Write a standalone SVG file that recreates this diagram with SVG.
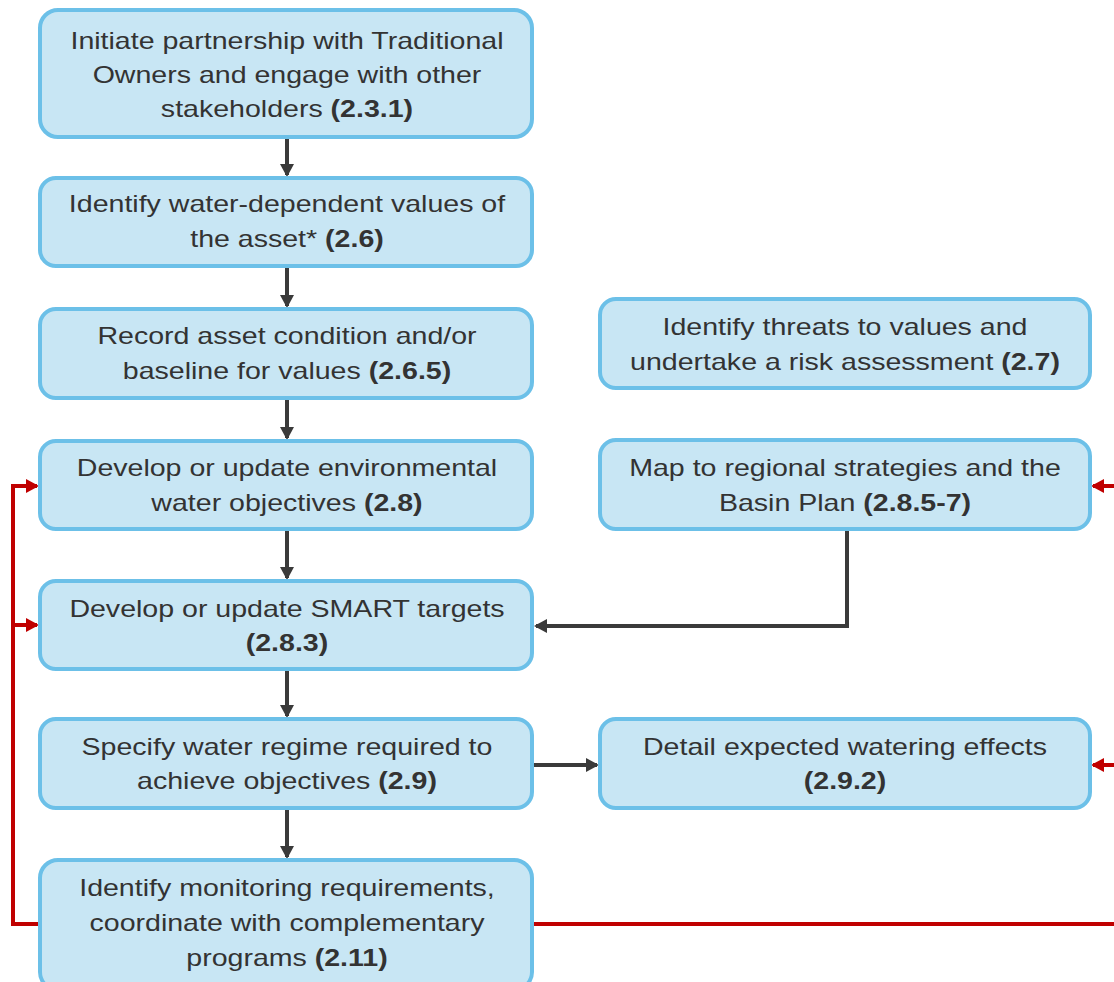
<svg xmlns="http://www.w3.org/2000/svg" width="1114" height="982" viewBox="0 0 1114 982">
<style>
.box{fill:#C8E6F4;stroke:#6CC0E8;stroke-width:4}
text{font-family:"Liberation Sans",Arial,sans-serif;font-size:24px;fill:#333;text-anchor:middle}
.b{font-weight:bold}
.dk{stroke:#3A3A3A;stroke-width:4;fill:none}
.rd{stroke:#C00000;stroke-width:4;fill:none}
</style>
<defs>
<marker id="ad" markerWidth="14" markerHeight="14" refX="11" refY="7" orient="auto" markerUnits="userSpaceOnUse"><path d="M0,0 L13,7 L0,14 Z" fill="#3A3A3A"/></marker>
<marker id="ar" markerWidth="14" markerHeight="14" refX="11" refY="7" orient="auto" markerUnits="userSpaceOnUse"><path d="M0,0 L13,7 L0,14 Z" fill="#C00000"/></marker>
</defs>
<rect width="1114" height="982" fill="#fff"/>
<g id="connectors">
<line class="dk" x1="287" y1="139" x2="287" y2="175" marker-end="url(#ad)"/>
<line class="dk" x1="287" y1="268" x2="287" y2="306" marker-end="url(#ad)"/>
<line class="dk" x1="287" y1="400" x2="287" y2="438" marker-end="url(#ad)"/>
<line class="dk" x1="287" y1="531" x2="287" y2="578" marker-end="url(#ad)"/>
<line class="dk" x1="287" y1="671" x2="287" y2="716" marker-end="url(#ad)"/>
<line class="dk" x1="287" y1="810" x2="287" y2="857" marker-end="url(#ad)"/>
<polyline class="dk" points="847,531 847,626 536,626" marker-end="url(#ad)"/>
<line class="dk" x1="534" y1="765" x2="597" y2="765" marker-end="url(#ad)"/>
<polyline class="rd" points="40,924 13,924 13,486 37,486" marker-end="url(#ar)"/>
<line class="rd" x1="13" y1="625" x2="37" y2="625" marker-end="url(#ar)"/>
<polyline class="rd" points="534,924 1120,924 1120,486 1093,486" marker-end="url(#ar)"/>
<line class="rd" x1="1120" y1="765" x2="1093" y2="765" marker-end="url(#ar)"/>
</g>
<g id="n1"><rect class="box" x="40" y="10" width="492" height="127" rx="18"/>
<g transform="matrix(1.19 0 0 1 -54.53 0)">
<text x="287" y="49">Initiate partnership with Traditional</text>
<text x="287" y="83">Owners and engage with other</text>
<text x="287" y="117">stakeholders <tspan class="b">(2.3.1)</tspan></text></g></g>
<g id="n2"><rect class="box" x="40" y="178" width="492" height="88" rx="16"/>
<g transform="matrix(1.19 0 0 1 -54.53 0)">
<text x="287" y="212">Identify water-dependent values of</text>
<text x="287" y="247">the asset* <tspan class="b">(2.6)</tspan></text></g></g>
<g id="n3"><rect class="box" x="40" y="309" width="492" height="89" rx="16"/>
<g transform="matrix(1.19 0 0 1 -54.53 0)">
<text x="287" y="344">Record asset condition and/or</text>
<text x="287" y="379">baseline for values <tspan class="b">(2.6.5)</tspan></text></g></g>
<g id="n4"><rect class="box" x="40" y="441" width="492" height="88" rx="16"/>
<g transform="matrix(1.19 0 0 1 -54.53 0)">
<text x="287" y="476">Develop or update environmental</text>
<text x="287" y="511">water objectives <tspan class="b">(2.8)</tspan></text></g></g>
<g id="n5"><rect class="box" x="40" y="581" width="492" height="88" rx="16"/>
<g transform="matrix(1.19 0 0 1 -54.53 0)">
<text x="287" y="617">Develop or update SMART targets</text>
<text x="287" y="651" class="b">(2.8.3)</text></g></g>
<g id="n6"><rect class="box" x="40" y="719" width="492" height="89" rx="16"/>
<g transform="matrix(1.19 0 0 1 -54.53 0)">
<text x="287" y="755">Specify water regime required to</text>
<text x="287" y="789">achieve objectives <tspan class="b">(2.9)</tspan></text></g></g>
<g id="n7"><rect class="box" x="40" y="860" width="492" height="130" rx="18"/>
<g transform="matrix(1.19 0 0 1 -54.53 0)">
<text x="287" y="896">Identify monitoring requirements,</text>
<text x="287" y="931">coordinate with complementary</text>
<text x="287" y="966">programs <tspan class="b">(2.11)</tspan></text></g></g>
<g id="r1"><rect class="box" x="600" y="299" width="490" height="89" rx="16"/>
<g transform="matrix(1.19 0 0 1 -160.55 0)">
<text x="845" y="335">Identify threats to values and</text>
<text x="845" y="370">undertake a risk assessment <tspan class="b">(2.7)</tspan></text></g></g>
<g id="r2"><rect class="box" x="600" y="440" width="490" height="89" rx="16"/>
<g transform="matrix(1.19 0 0 1 -160.55 0)">
<text x="845" y="476">Map to regional strategies and the</text>
<text x="845" y="511">Basin Plan <tspan class="b">(2.8.5-7)</tspan></text></g></g>
<g id="r3"><rect class="box" x="600" y="719" width="490" height="89" rx="16"/>
<g transform="matrix(1.19 0 0 1 -160.55 0)">
<text x="845" y="755">Detail expected watering effects</text>
<text x="845" y="789" class="b">(2.9.2)</text></g></g>
</svg>
